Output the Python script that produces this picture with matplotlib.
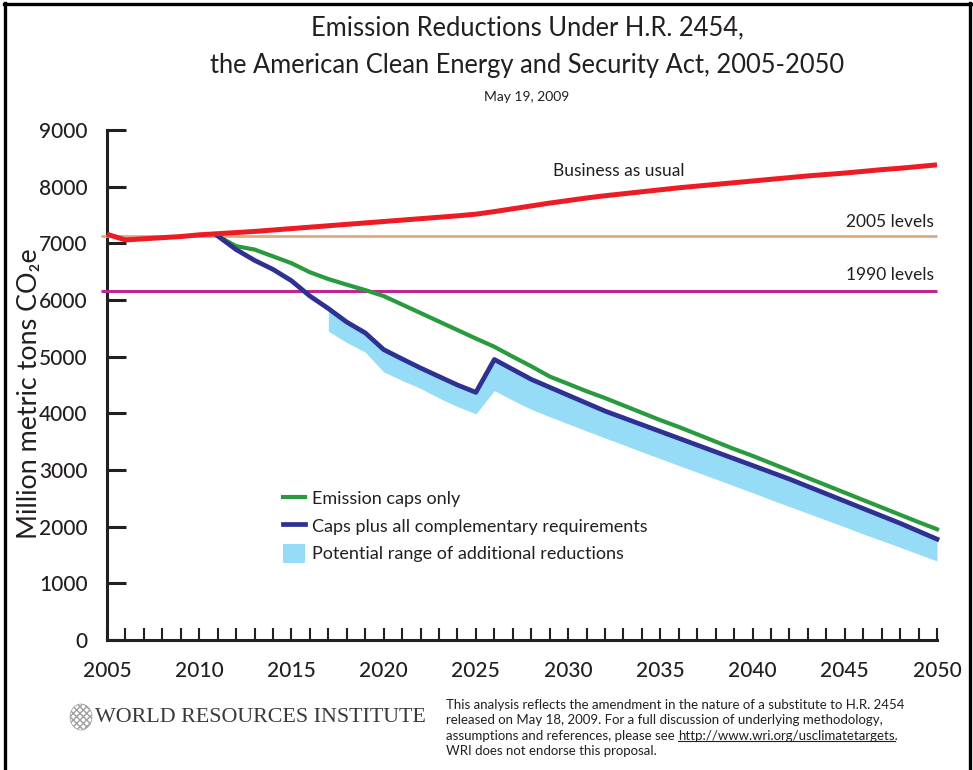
import matplotlib
matplotlib.use('Agg')
import matplotlib.pyplot as plt
from matplotlib.patches import Ellipse, Patch
from matplotlib.lines import Line2D

# ---------------- data ----------------
bau_years = list(range(2005, 2051))
bau_values = [7160, 7060, 7080, 7100, 7120, 7150, 7170, 7190, 7210, 7235,
              7260, 7285, 7310, 7335, 7360, 7385, 7410, 7435, 7460, 7485,
              7515, 7560, 7610, 7660, 7710, 7755, 7800, 7840, 7875, 7910,
              7945, 7980, 8010, 8040, 8070, 8100, 8130, 8160, 8190, 8215,
              8240, 8270, 8300, 8325, 8355, 8385]

level_2005 = 7130
level_1990 = 6160

cap_years = list(range(2011, 2051))
caps_only = [7130, 6950, 6890, 6770, 6650, 6490, 6370, 6270, 6175, 6070,
             5920, 5770, 5620, 5470, 5320, 5175, 5000, 4830, 4650, 4520,
             4390, 4270, 4140, 4010, 3880, 3760, 3630, 3500, 3370, 3250,
             3120, 2990, 2860, 2730, 2600, 2470, 2340, 2210, 2080, 1955]
caps_plus = [7130, 6890, 6700, 6540, 6340, 6070, 5850, 5610, 5420, 5125,
             4960, 4800, 4650, 4500, 4370, 4950, 4775, 4600, 4460, 4320,
             4180, 4040, 3920, 3800, 3680, 3560, 3440, 3320, 3200, 3080,
             2960, 2840, 2710, 2580, 2450, 2320, 2190, 2060, 1920, 1780]

range_years = list(range(2017, 2051))
range_low = [5450, 5250, 5080, 4730, 4580, 4440, 4270, 4120, 3990, 4400,
             4230, 4070, 3940, 3815, 3690, 3565, 3445, 3320, 3200, 3080,
             2960, 2840, 2720, 2600, 2475, 2355, 2235, 2115, 1995, 1870,
             1755, 1635, 1515, 1395]

x_ticks = list(range(2005, 2051, 5))
y_ticks = list(range(0, 9001, 1000))

legend_labels = ["Emission caps only",
                 "Caps plus all complementary requirements",
                 "Potential range of additional reductions"]

# ---------------- style ----------------
W, H = 973, 770
TXT = '#231f20'
FONT = ['Lato', 'DejaVu Sans']
plt.rcParams['font.family'] = FONT

fig = plt.figure(figsize=(W / 100, H / 100), dpi=100)


def fx(px):
    return px / W


def fy(py):
    return 1 - py / H


x_lo, x_hi = 2004.7, 2050.6
ppy = (937 - 107) / 45.0
left_px = 107 - (2005 - x_lo) * ppy
right_px = 937 + (x_hi - 2050) * ppy
ax = fig.add_axes([fx(left_px), fy(640), (right_px - left_px) / W, 510 / H])
ax.set_xlim(x_lo, x_hi)
ax.set_ylim(0, 9000)
ax.patch.set_alpha(0)

# reference levels
ax.hlines(level_2005, x_lo, 2050, color='#dca77a', lw=1.9, zorder=3)
ax.hlines(level_1990, x_lo, 2050, color='#c0268f', lw=2.2, zorder=3)

# range fill
blue_sub = caps_plus[cap_years.index(range_years[0]):]
ax.fill_between(range_years, range_low, blue_sub, color='#96dcf6', lw=0,
                zorder=3.1)

# lines
ax.plot(bau_years, bau_values, color='#ed1c24', lw=3.6, zorder=3.5,
        solid_capstyle='butt')
l_green, = ax.plot(cap_years, caps_only, color='#2a9a3f', lw=3.0, zorder=3.4)
l_blue, = ax.plot(cap_years, caps_plus, color='#2e3092', lw=3.4, zorder=3.45)

# spines & ticks
for s in ('top', 'right'):
    ax.spines[s].set_visible(False)
ax.spines['left'].set_position(('data', 2005))
ax.spines['left'].set_bounds(0, 9000)
ax.spines['bottom'].set_bounds(2005, 2050)
for s in ('left', 'bottom'):
    ax.spines[s].set_color(TXT)
    ax.spines[s].set_linewidth(2.2)

ax.set_xticks(x_ticks)
ax.set_xticks(range(2005, 2051), minor=True)
ax.set_yticks(y_ticks)
ax.tick_params(axis='x', which='both', direction='in', length=8.5,
               width=1.5, color=TXT, pad=15, labelsize=15, labelcolor=TXT)
ax.tick_params(axis='y', which='major', direction='in', length=14,
               width=2.2, color=TXT, pad=14, labelsize=15, labelcolor=TXT)
for lab in ax.get_xticklabels() + ax.get_yticklabels():
    lab.set_fontweight('medium')

fig.text(fx(30), fy(394), 'Million metric tons CO\u2082e', rotation=90,
         ha='center', va='center', fontsize=19.4, color=TXT)

# annotations
fig.text(fx(553), fy(171), 'Business as usual', ha='left', va='center',
         fontsize=12.5, color=TXT)
fig.text(fx(934), fy(222), '2005 levels', ha='right', va='center',
         fontsize=12.5, color=TXT)
fig.text(fx(934), fy(275), '1990 levels', ha='right', va='center',
         fontsize=12.5, color=TXT)

# legend
patch = Patch(facecolor='#96dcf6', edgecolor='none')
fig.legend([l_green, l_blue, patch], legend_labels, loc='upper left',
           bbox_to_anchor=(fx(283), fy(489)), bbox_transform=fig.transFigure,
           frameon=False, borderpad=0, borderaxespad=0, handlelength=1.2,
           handleheight=1.2, handletextpad=0.4, labelspacing=0.5,
           fontsize=13, labelcolor=TXT)

# titles
fig.text(fx(527), fy(28), 'Emission Reductions Under H.R. 2454,',
         ha='center', va='center', fontsize=18.4, color=TXT)
fig.text(fx(527), fy(65), 'the American Clean Energy and Security Act, 2005-2050',
         ha='center', va='center', fontsize=18.4, color=TXT)
fig.text(fx(527), fy(97), 'May 19, 2009', ha='center', va='center',
         fontsize=10, color=TXT)

# footer
fig.patches.append(Ellipse((fx(81), fy(717)), 22 / W, 26 / H,
                           transform=fig.transFigure, fill=False,
                           hatch='xxxxx', edgecolor='#a0a0a0', lw=0.5))
fig.text(fx(95), fy(718), 'WORLD RESOURCES INSTITUTE', ha='left',
         va='center', fontsize=15.8, family='Liberation Serif', color='#3a3a3a')

FS = 9.55
foot = ['This analysis reflects the amendment in the nature of a substitute to H.R. 2454',
        'released on May 18, 2009. For a full discussion of underlying methodology,',
        'assumptions and references, please see ',
        'WRI does not endorse this proposal.']
url = 'http://www.wri.org/usclimatetargets.'
texts = []
for i, line in enumerate(foot):
    texts.append(fig.text(fx(446), fy(705 + 15.3 * i), line, ha='left',
                          va='center', fontsize=FS, color=TXT))
fig.canvas.draw()
r = fig.canvas.get_renderer()
bb = texts[2].get_window_extent(r)
ut = fig.text(bb.x1 / W, fy(705 + 15.3 * 2), url, ha='left', va='center',
              fontsize=FS, color=TXT)
ub = ut.get_window_extent(r)
fig.lines.append(Line2D([ub.x0 / W, (ub.x1 - 3) / W],
                        [(ub.y0 + 1) / H, (ub.y0 + 1) / H],
                        transform=fig.transFigure, color=TXT, lw=0.8))

# frame
for xs, ys in (([5, 5], [3, 770]), ([4, 971], [4, 4]), ([970, 970], [3, 770])):
    fig.lines.append(Line2D([fx(v) for v in xs], [fy(v) for v in ys],
                            transform=fig.transFigure, color='black', lw=2.4))

fig.savefig('out.png', dpi=100)
